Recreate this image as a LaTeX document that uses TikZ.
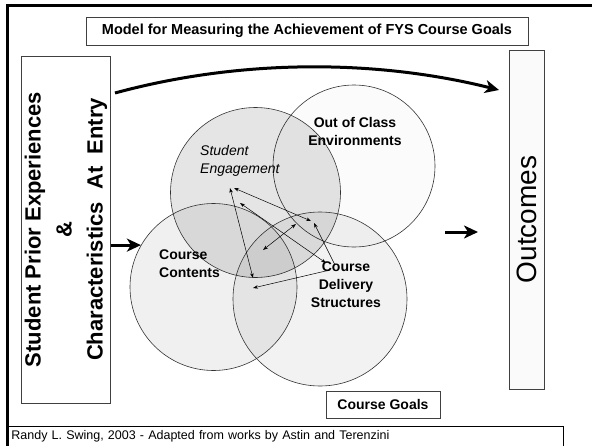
\documentclass[tikz,border=0pt]{standalone}
\usepackage{fontspec}
\setmainfont{Liberation Sans}
\usetikzlibrary{arrows.meta}
\tikzset{
   framebox/.style={draw=black!75, line width=0.8pt, inner sep=0pt},
   ring/.style={circle, draw=black!80, line width=0.6pt, fill=black, inner sep=0pt},
   lbl/.style={font=\fontsize{14}{18}\selectfont\bfseries, align=center, inner sep=0pt},
   bigarrow/.style={line width=3pt, -{Stealth[length=14pt,width=13pt,inset=4pt]}},
   link/.style={line width=0.5pt, {Stealth[length=5pt,width=3.5pt]}-{Stealth[length=5pt,width=3.5pt]}},
   onelink/.style={line width=0.5pt, -{Stealth[length=5pt,width=3.5pt]}}
}

\begin{document}
\begin{tikzpicture}[x=1pt,y=-1pt]
   \useasboundingbox (0,0) rectangle (592,445);
   \draw[line width=3pt] (7,446) -- (7,5) -- (592,5);

   \node[framebox, minimum width=442pt, minimum height=28pt,
         font=\fontsize{14.5}{17}\selectfont\bfseries] (title) at (307,31)
         {Model for Measuring the Achievement of FYS Course Goals};
   \node[framebox, rotate=90, minimum width=347pt, minimum height=89pt, align=center,
         font=\fontsize{22}{31}\selectfont\bfseries] (prior) at (66,229.5)
         {Student Prior Experiences\\\&\\Characteristics~~At~~Entry};
   \node[framebox, fill=black!2, rotate=90, minimum width=339pt, minimum height=35pt,
         font=\fontsize{28}{30}\selectfont] (outc) at (526.5,219.5) {Outcomes};

   % the four areas
   \node[ring, fill opacity=0.015, minimum size=162pt] (oce) at (354,166) {};
   \node[ring, fill opacity=0.10, minimum size=170pt] (se) at (255.5,192.5) {};
   \node[ring, fill opacity=0.06, minimum size=167pt] (cc) at (213.5,287) {};
   \node[ring, fill opacity=0.05, minimum size=174pt] (cds) at (320,299) {};

   \node[lbl] (oceLbl) at (355,131) {Out of Class\\Environments};
   \node[lbl, font=\fontsize{14}{18}\selectfont\itshape, align=left, anchor=west] (seLbl) at (200,161) {Student\\Engagement};
   \node[lbl, align=left, anchor=west] (ccLbl) at (159,264) {Course\\Contents};
   \node[lbl] (cdsLbl) at (346,285) {Course\\Delivery\\Structures};

   \node[framebox, minimum width=114pt, minimum height=27pt,
         font=\fontsize{14}{17}\selectfont\bfseries] (goals) at (383,404.5) {Course Goals};
   \node[draw, line width=0.9pt, anchor=north west, text width=548pt, inner sep=4pt,
         minimum height=20pt, align=left, font=\fontsize{12.5}{14}\selectfont] (credit) at (7,426)
         {Randy L. Swing, 2003 - Adapted from works by Astin and Terenzini};

   % big arrows
   \coordinate (arcA) at (115,93);
   \coordinate (arcB) at (499,90);
   \coordinate (outA) at (445,232);
   \coordinate (outB) at (478,232);
   \draw[bigarrow] (arcA) .. controls (240,59) and (375,59) .. (arcB);
   \draw[bigarrow] (prior.south |- cc.150) -- (cc.150);
   \draw[bigarrow] (outA) -- (outB);

   % links between areas
   \coordinate (a1) at (230,188); \coordinate (b1) at (253,278);
   \coordinate (a2) at (234,188); \coordinate (b2) at (311,221);
   \coordinate (a3) at (240,203); \coordinate (b3) at (326,263);
   \coordinate (a4) at (263,250); \coordinate (b4) at (296,224);
   \coordinate (a5) at (335,265); \coordinate (b5) at (314,223);
   \coordinate (a6) at (330,270); \coordinate (b6) at (253,288);
   \draw[link] (a1) -- (b1);
   \draw[link] (a2) -- (b2);
   \draw[link] (a3) -- (b3);
   \draw[link] (a4) -- (b4);
   \draw[onelink] (a5) -- (b5);
   \draw[onelink] (a6) -- (b6);
\end{tikzpicture}
\end{document}
